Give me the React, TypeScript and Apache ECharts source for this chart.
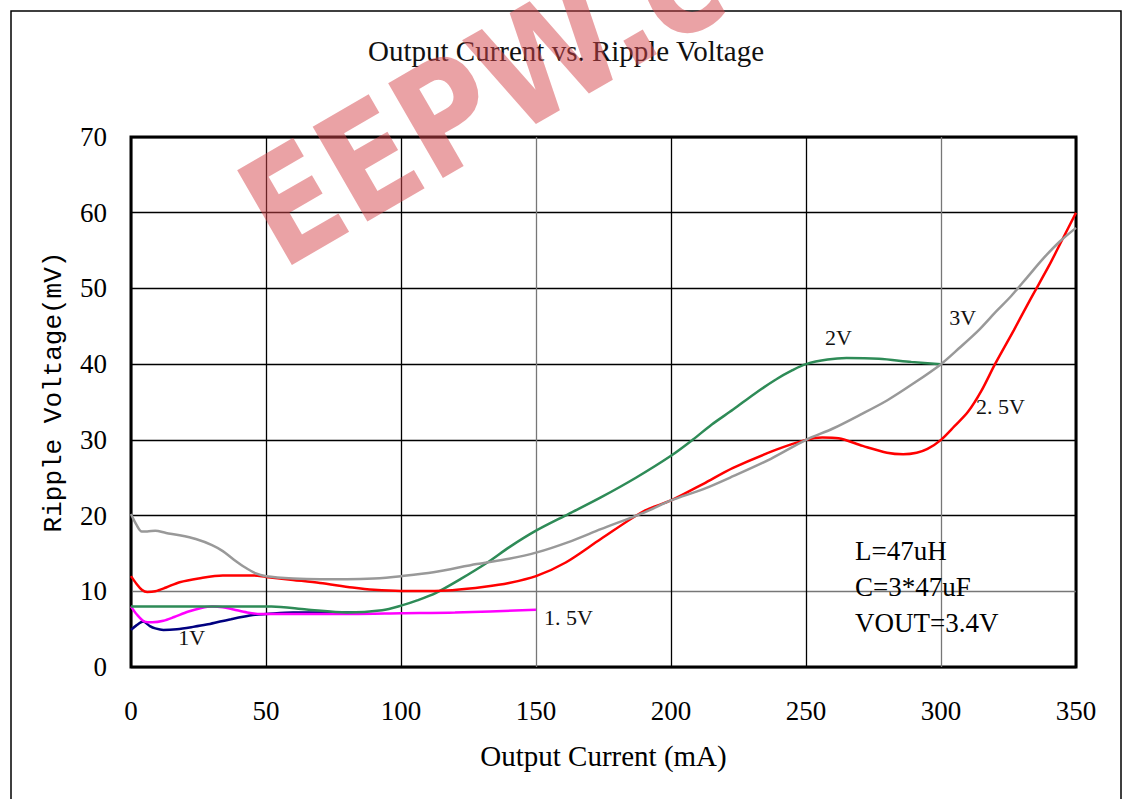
import React, { useEffect, useRef } from "react";
import * as echarts from "echarts";

const xTicks = [0, 50, 100, 150, 200, 250, 300, 350];
const yTicks = [0, 10, 20, 30, 40, 50, 60, 70];

const series3V: number[][] = [
  [0, 20.2], [2, 18.8], [4, 17.9], [6, 17.9], [9, 18.0], [13, 17.7], [18, 17.4], [24, 16.9],
  [30, 16.1], [34, 15.3], [38, 14.2], [42, 13.2], [46, 12.4], [50, 12.0], [60, 11.7], [70, 11.6],
  [80, 11.6], [90, 11.7], [100, 12.0], [112, 12.5], [128, 13.6], [140, 14.3], [150, 15.1],
  [162, 16.5], [174, 18.2], [190, 20.4], [200, 22], [212, 23.5], [223, 25.2], [237, 27.5],
  [250, 30], [260, 31.5], [270, 33.3], [280, 35.2], [290, 37.5], [300, 40], [307, 42.2],
  [314, 44.5], [320, 46.8], [326, 49], [332, 51.5], [338, 54], [344, 56.2], [350, 58],
];

const series25V: number[][] = [
  [0, 12], [2, 11], [4, 10.2], [6, 9.9], [9, 10.0], [13, 10.5], [18, 11.2], [25, 11.7],
  [34, 12.1], [45, 12.1], [50, 11.9], [60, 11.5], [70, 11.1], [82, 10.5], [90, 10.2],
  [100, 10.05], [110, 10.05], [119, 10.15], [131, 10.6], [140, 11.1], [150, 12], [161, 13.8],
  [174, 16.9], [190, 20.6], [200, 22], [212, 24.2], [223, 26.3], [239, 28.7], [250, 30],
  [256, 30.3], [262, 30.2], [271, 29.2], [280, 28.3], [286, 28.1], [291, 28.3], [295, 28.8],
  [300, 30], [305, 31.8], [310, 33.7], [315, 36.5], [320, 40], [327, 44.5], [333, 48.5],
  [340, 53], [345, 56.5], [350, 60],
];

const series2V: number[][] = [
  [0, 8.0], [20, 8.0], [40, 8.0], [52, 8.0], [65, 7.6], [80, 7.2], [93, 7.5], [100, 8.1],
  [106, 8.8], [113, 9.8], [122, 11.6], [132, 13.8], [140, 15.8], [150, 18], [162, 20.2],
  [174, 22.4], [187, 25], [200, 27.9], [208, 30], [215, 32], [223, 34], [231, 36.1],
  [239, 38], [245, 39.2], [250, 40], [258, 40.6], [265, 40.8], [277, 40.7], [289, 40.3],
  [300, 40],
];

const series15V: number[][] = [
  [0, 8], [2, 7], [5, 6.0], [8, 5.9], [12, 6.1], [16, 6.6], [21, 7.3], [26, 7.8], [30, 8.0],
  [34, 7.9], [38, 7.6], [43, 7.2], [48, 7.0], [60, 7.0], [82, 7.0], [100, 7.1], [120, 7.2],
  [150, 7.55],
];

const series1V: number[][] = [
  [0, 4.9], [2, 5.5], [4.5, 6.0], [7, 5.4], [9, 5.1], [12, 4.9], [17, 5.0], [23, 5.3],
  [28, 5.6], [33, 6.0], [37, 6.3], [41, 6.6], [46, 6.9], [50, 7.0], [60, 7.2], [70, 7.2],
  [85, 7.2],
];

const curveLabels = [
  { name: "1V", value: [22.5, 3.9] },
  { name: "1. 5V", value: [162, 6.6] },
  { name: "2V", value: [262, 43.5] },
  { name: "3V", value: [308, 46.2] },
  { name: "2. 5V", value: [322, 34.4] },
];

const notes = ["L=47uH", "C=3*47uF", "VOUT=3.4V"];

const SERIF = "'Liberation Serif', 'Times New Roman', serif";
const MONO = "'Liberation Mono', 'DejaVu Sans Mono', monospace";

export default function App() {
  const ref = useRef<HTMLDivElement>(null);
  useEffect(() => {
    if (!ref.current) return;
    const chart = echarts.init(ref.current, undefined, { renderer: "svg" });
    const line = (name: string, data: number[][], color: string, z: number) => ({
      name,
      type: "line",
      data,
      smooth: 0.3,
      showSymbol: false,
      symbol: "none",
      z,
      lineStyle: { color, width: 2.5 },
      itemStyle: { color },
    });
    const rot = (30 * Math.PI) / 180;
    chart.setOption({
      animation: false,
      backgroundColor: "#ffffff",
      grid: {
        left: 131,
        top: 137,
        width: 945,
        height: 530,
        show: true,
        borderColor: "#000",
        borderWidth: 3,
        backgroundColor: "transparent",
      },
      xAxis: {
        type: "value",
        min: 0,
        max: 350,
        interval: 50,
        name: "Output Current (mA)",
        nameLocation: "middle",
        nameGap: 74,
        nameTextStyle: { fontFamily: SERIF, fontSize: 29, color: "#000" },
        axisLine: { show: false },
        axisTick: { show: false },
        axisLabel: { fontFamily: SERIF, fontSize: 27, color: "#000", margin: 30 },
        splitLine: {
          show: true,
          lineStyle: {
            color: ["#000", "#000", "#000", "#777", "#000", "#000", "#777", "#000"],
            width: 1.3,
          },
        },
      },
      yAxis: {
        type: "value",
        min: 0,
        max: 70,
        interval: 10,
        name: "Ripple Voltage(mV)",
        nameLocation: "middle",
        nameGap: 64,
        nameRotate: 90,
        nameTextStyle: {
          fontFamily: MONO,
          fontSize: 26,
          color: "#000",
          padding: [0, 0, 0, 20],
        },
        axisLine: { show: false },
        axisTick: { show: false },
        axisLabel: { fontFamily: SERIF, fontSize: 27, color: "#000", margin: 24 },
        splitLine: {
          show: true,
          lineStyle: {
            color: ["#000", "#777", "#000", "#000", "#000", "#000", "#000", "#000"],
            width: 1.3,
          },
        },
      },
      series: [
        line("1V", series1V, "#000080", 3),
        line("1.5V", series15V, "#ff00ff", 4),
        line("2V", series2V, "#2e8b57", 5),
        line("2.5V", series25V, "#ff0000", 6),
        line("3V", series3V, "#999999", 7),
        {
          name: "labels",
          type: "scatter",
          data: curveLabels,
          symbolSize: 2,
          itemStyle: { color: "rgba(0,0,0,0)" },
          z: 8,
          label: {
            show: true,
            position: "inside",
            formatter: "{b}",
            fontFamily: SERIF,
            fontSize: 22,
            color: "#111",
            textBorderWidth: 0,
            opacity: 1,
          },
          labelLayout: { hideOverlap: false },
        },
      ],
      graphic: [
        {
          type: "rect",
          shape: { x: 11, y: 11, width: 1110, height: 800 },
          style: { fill: "none", stroke: "#000", lineWidth: 1.5 },
          z: 1,
          silent: true,
        },
        {
          type: "text",
          x: 566,
          y: 51,
          style: {
            text: "Output Current vs. Ripple Voltage",
            fontFamily: SERIF,
            fontSize: 29,
            fill: "#111",
            textAlign: "center",
            textVerticalAlign: "middle",
          },
          z: 10,
        },
        ...notes.map((t, i) => ({
          type: "text",
          x: 855,
          y: 551 + i * 36,
          style: {
            text: t,
            fontFamily: SERIF,
            fontSize: 27,
            fill: "#000",
            textAlign: "left",
            textVerticalAlign: "middle",
          },
          z: 10,
        })),
        {
          type: "text",
          x: 256,
          y: 226,
          rotation: rot,
          scaleX: 0.85,
          style: {
            text: "EEPW.com",
            fontFamily: "'DejaVu Sans', 'Liberation Sans', sans-serif",
            fontWeight: "bold",
            fontSize: 150,
            fill: "rgb(213,70,75)",
            opacity: 0.5,
            textAlign: "left",
            textVerticalAlign: "middle",
          },
          z: 100,
          silent: true,
        },
      ],
    });
    return () => chart.dispose();
  }, []);
  return (
    <div
      ref={ref}
      style={{ position: "fixed", left: 0, top: 0, width: 1122, height: 799, background: "#fff" }}
    />
  );
}
